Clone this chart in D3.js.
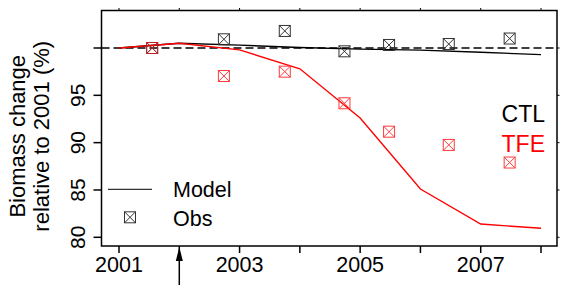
<!DOCTYPE html>
<meta charset="utf-8">
<style>
body { margin: 0; background: #fff; }
text { font-family: "Liberation Sans", Arial, sans-serif; }
.model { fill: none; stroke-width: 1.4px; }
</style>
<svg width="569" height="296"></svg>
<script src="https://d3js.org/d3.v7.min.js"></script>
<script>

// model runs, yearly
var modelYears = [2001, 2002, 2003, 2004, 2005, 2006, 2007, 2008];
var modelCTL = [100, 100.5, 100.3, 100.05, 99.88, 99.78, 99.55, 99.3];
var modelTFE = [100, 100.5, 99.8, 97.8, 92.6, 85.1, 81.4, 80.95];

// observations
var obsYears = [2001.55, 2002.74, 2003.75, 2004.74, 2005.48, 2006.47, 2007.48];
var obsCTL = [100, 100.92, 101.8, 99.65, 100.32, 100.42, 101.0];
var obsTFE = [100, 97.04, 97.5, 94.16, 91.16, 89.76, 87.9];

var yTicks = [80, 85, 90, 95, 100];
var yTickLabels = ["80", "85", "90", "95", ""];
var xTicks = [2001, 2002, 2003, 2004, 2005, 2006, 2007, 2008];
var xTickLabels = ["2001", "", "2003", "", "2005", "", "2007", ""];

var svg = d3.select("svg");
var box = {left: 101.5, right: 557, top: 10.5, bottom: 246};

var x = d3.scaleLinear().domain([2001, 2008]).range([119, 541]);
var y = d3.scaleLinear().domain([80, 100]).range([237.3, 48]);

var line = d3.line()
  .x(function(d) { return x(d[0]); })
  .y(function(d) { return y(d[1]); });

// reference line at 100
svg.append("line")
  .attr("x1", box.left).attr("x2", box.right)
  .attr("y1", y(100)).attr("y2", y(100))
  .attr("stroke", "#000").attr("stroke-width", 1.4)
  .attr("stroke-dasharray", "8,4");

svg.append("path")
  .datum(d3.zip(modelYears, modelCTL))
  .attr("class", "model").attr("stroke", "#000")
  .attr("d", line);
svg.append("path")
  .datum(d3.zip(modelYears, modelTFE))
  .attr("class", "model").attr("stroke", "#ff0000")
  .attr("d", line);

function obsMark(sel, cx, cy, col) {
  var h = 5.5;
  var g = sel.append("g").attr("transform", "translate(" + cx + "," + cy + ")")
    .attr("stroke", col).attr("stroke-width", 1).attr("fill", "none");
  g.append("rect").attr("x", -h).attr("y", -h).attr("width", 2 * h).attr("height", 2 * h);
  g.append("path").attr("d", "M" + (-h) + "," + (-h) + "L" + h + "," + h + "M" + (-h) + "," + h + "L" + h + "," + (-h));
}

obsYears.forEach(function(yr, i) {
  obsMark(svg, x(yr), y(obsCTL[i]), "#333");
});
obsYears.forEach(function(yr, i) {
  if (i == 0) return; // first one sits under the black one
  obsMark(svg, x(yr), y(obsTFE[i]), "#ff3b3b");
});
obsMark(svg, x(obsYears[0]), y(obsTFE[0]), "rgba(220,30,30,0.8)");

// box
svg.append("rect")
  .attr("x", box.left).attr("y", box.top)
  .attr("width", box.right - box.left).attr("height", box.bottom - box.top)
  .attr("fill", "none").attr("stroke", "#000").attr("stroke-width", 1.5);

// bottom axis
var gx = svg.append("g").attr("transform", "translate(0," + box.bottom + ")");
gx.selectAll("line").data(xTicks).enter().append("line")
  .attr("x1", x).attr("x2", x).attr("y1", 0).attr("y2", 7)
  .attr("stroke", "#000").attr("stroke-width", 1.5);
gx.selectAll("text").data(xTicks).enter().append("text")
  .attr("x", x).attr("y", 26)
  .attr("text-anchor", "middle").style("font-size", "21.5px")
  .text(function(d, i) { return xTickLabels[i]; });

// top ticks
svg.append("g").selectAll("line").data(xTicks).enter().append("line")
  .attr("x1", x).attr("x2", x).attr("y1", box.top).attr("y2", box.top - 2.5)
  .attr("stroke", "#000").attr("stroke-width", 1);

// left axis
var gy = svg.append("g").attr("transform", "translate(" + box.left + ",0)");
gy.selectAll("line").data(yTicks).enter().append("line")
  .attr("x1", 0).attr("x2", -8).attr("y1", y).attr("y2", y)
  .attr("stroke", "#000").attr("stroke-width", 1.5);
gy.selectAll("text").data(yTicks).enter().append("text")
  .attr("transform", function(d) { return "translate(-17," + y(d) + ") rotate(-90)"; })
  .attr("text-anchor", "middle").style("font-size", "21px")
  .text(function(d, i) { return yTickLabels[i]; });

// right ticks
svg.append("g").selectAll("line").data(yTicks).enter().append("line")
  .attr("x1", box.right).attr("x2", box.right + 2.5).attr("y1", y).attr("y2", y)
  .attr("stroke", "#000").attr("stroke-width", 1);

// y title
var yc = (box.top + box.bottom) / 2 + 8;
svg.append("text")
  .attr("transform", "translate(25," + yc + ") rotate(-90)")
  .attr("text-anchor", "middle").style("font-size", "22px")
  .text("Biomass change");
svg.append("text")
  .attr("transform", "translate(49," + yc + ") rotate(-90)")
  .attr("text-anchor", "middle").style("font-size", "22px")
  .text("relative to 2001 (%)");

// treatment start arrow
svg.append("line")
  .attr("x1", x(2002)).attr("x2", x(2002))
  .attr("y1", 285).attr("y2", 258)
  .attr("stroke", "#000").attr("stroke-width", 1.5);
svg.append("path")
  .attr("d", "M" + x(2002) + "," + (box.bottom + 1) + "L" + (x(2002) - 3.5) + "," + (box.bottom + 15) +
    "L" + (x(2002) + 3.5) + "," + (box.bottom + 15) + "Z")
  .attr("fill", "#000");

// series labels
svg.append("text").attr("x", 545).attr("y", 122)
  .attr("text-anchor", "end").style("font-size", "23px").attr("fill", "#000")
  .text("CTL");
svg.append("text").attr("x", 545).attr("y", 152)
  .attr("text-anchor", "end").style("font-size", "23px").attr("fill", "#ff0000")
  .text("TFE");

// legend
svg.append("line")
  .attr("x1", 108).attr("x2", 152).attr("y1", 189.3).attr("y2", 189.3)
  .attr("stroke", "#000").attr("stroke-width", 1);
svg.append("text").attr("x", 173).attr("y", 197)
  .style("font-size", "21.5px").text("Model");
obsMark(svg, 130, 217.3, "#333");
svg.append("text").attr("x", 173).attr("y", 225.5)
  .style("font-size", "21.5px").text("Obs");

</script>
